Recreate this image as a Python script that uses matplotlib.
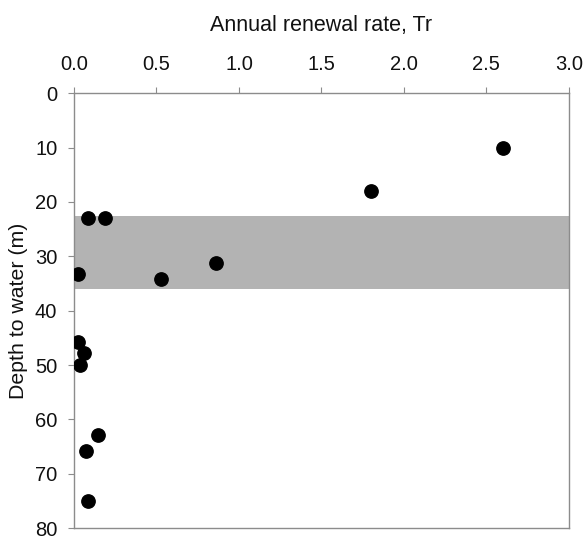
import numpy as np
import matplotlib.pyplot as plt

plt.rcParams['font.family'] = ['Liberation Sans', 'DejaVu Sans']

# annual renewal rate (Tr) and depth to water (m)
renewal_rate = [2.60, 1.80, 0.085, 0.19, 0.024, 0.53, 0.86, 0.024, 0.06, 0.036, 0.146, 0.073, 0.085]
depth = [10.1, 18.0, 23.0, 23.0, 33.2, 34.1, 31.3, 45.8, 47.8, 50.0, 62.9, 65.9, 75.0]

# shaded depth interval
band_top = 22.5
band_bottom = 36.1

x_ticks = [0.0, 0.5, 1.0, 1.5, 2.0, 2.5, 3.0]
y_ticks = [0, 10, 20, 30, 40, 50, 60, 70, 80]

fig = plt.figure(figsize=(5.85, 5.36), dpi=100)
ax = fig.add_axes([0.1265, 0.0149, 0.846, 0.811])

ax.axhspan(band_top, band_bottom, color='#b3b3b3', lw=0, zorder=1)
ax.plot(renewal_rate, depth, 'o', color='black', markersize=9.6, zorder=3)

ax.set_xlim(0, 3.0)
ax.set_ylim(80, 0)
ax.set_xticks(x_ticks)
ax.set_xticklabels(['%.1f' % t for t in x_ticks])
ax.set_yticks(y_ticks)

ax.xaxis.set_ticks_position('top')
ax.xaxis.set_label_position('top')
ax.tick_params(axis='both', colors='#8c8c8c', labelcolor='#111111', labelsize=14.5,
               length=4, width=0.8, direction='out')
ax.tick_params(axis='x', pad=10)
ax.tick_params(axis='y', pad=8)

for sp in ax.spines.values():
    sp.set_color('#8c8c8c')
    sp.set_linewidth(1.0)

ax.set_xlabel('Annual renewal rate, Tr', fontsize=15.5, labelpad=17, color='#111111')
ax.set_ylabel('Depth to water (m)', fontsize=15.3, labelpad=5, color='#111111')

fig.savefig('out.png', dpi=100)
